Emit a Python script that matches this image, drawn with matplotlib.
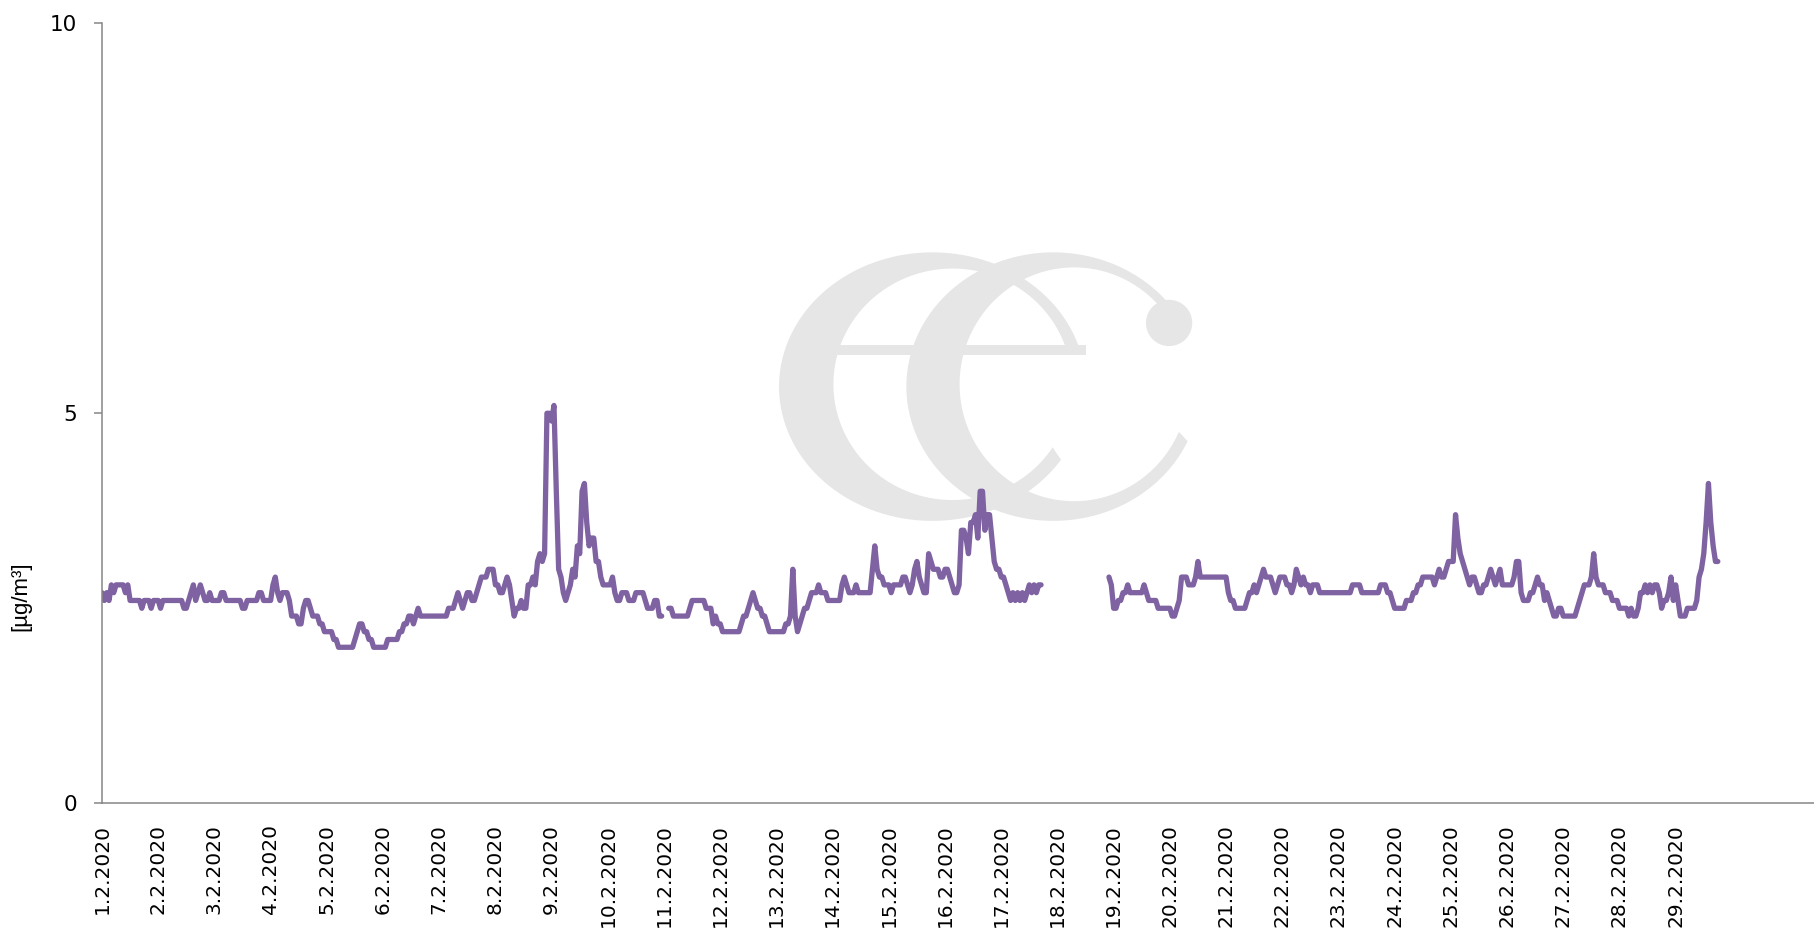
#月間の1時間値をプロット（2020年2月）
#背景にロゴの透かしを入れる

import numpy as np
import matplotlib
matplotlib.use('Agg')
import matplotlib.pyplot as plt
from matplotlib.patches import Polygon, Circle, Rectangle
from matplotlib.transforms import IdentityTransform

nan = np.nan

#1日ごとの時間値 [µg/m³]
d01 = [2.7, 2.6, 2.7, 2.6, 2.8, 2.7, 2.8, 2.8, 2.8, 2.8, 2.7, 2.8, 2.6, 2.6, 2.6, 2.6, 2.6, 2.5, 2.6, 2.6, 2.6, 2.5, 2.6, 2.6]
d02 = [2.6, 2.5, 2.6, 2.6, 2.6, 2.6, 2.6, 2.6, 2.6, 2.6, 2.6, 2.5, 2.5, 2.6, 2.7, 2.8, 2.6, 2.7, 2.8, 2.7, 2.6, 2.6, 2.7, 2.6]
d03 = [2.6, 2.6, 2.6, 2.7, 2.7, 2.6, 2.6, 2.6, 2.6, 2.6, 2.6, 2.6, 2.5, 2.5, 2.6, 2.6, 2.6, 2.6, 2.6, 2.7, 2.7, 2.6, 2.6, 2.6]
d04 = [2.6, 2.8, 2.9, 2.7, 2.6, 2.7, 2.7, 2.7, 2.6, 2.4, 2.4, 2.4, 2.3, 2.3, 2.5, 2.6, 2.6, 2.5, 2.4, 2.4, 2.4, 2.3, 2.3, 2.2]
d05 = [2.2, 2.2, 2.2, 2.1, 2.1, 2.0, 2.0, 2.0, 2.0, 2.0, 2.0, 2.0, 2.1, 2.2, 2.3, 2.3, 2.2, 2.2, 2.1, 2.1, 2.0, 2.0, 2.0, 2.0]
d06 = [2.0, 2.0, 2.1, 2.1, 2.1, 2.1, 2.1, 2.2, 2.2, 2.3, 2.3, 2.4, 2.4, 2.3, 2.4, 2.5, 2.4, 2.4, 2.4, 2.4, 2.4, 2.4, 2.4, 2.4]
d07 = [2.4, 2.4, 2.4, 2.4, 2.5, 2.5, 2.5, 2.6, 2.7, 2.6, 2.5, 2.6, 2.7, 2.7, 2.6, 2.6, 2.7, 2.8, 2.9, 2.9, 2.9, 3.0, 3.0, 3.0]
d08 = [2.8, 2.8, 2.7, 2.7, 2.8, 2.9, 2.8, 2.6, 2.4, 2.5, 2.5, 2.6, 2.5, 2.5, 2.8, 2.8, 2.9, 2.8, 3.1, 3.2, 3.1, 3.2, 5.0, 5.0]
d09 = [4.9, 5.1, 4.0, 3.0, 2.9, 2.7, 2.6, 2.7, 2.8, 3.0, 2.9, 3.3, 3.2, 4.0, 4.1, 3.6, 3.3, 3.4, 3.4, 3.1, 3.1, 2.9, 2.8, 2.8]
d10 = [2.8, 2.8, 2.9, 2.7, 2.6, 2.6, 2.7, 2.7, 2.7, 2.6, 2.6, 2.6, 2.7, 2.7, 2.7, 2.7, 2.6, 2.5, 2.5, 2.5, 2.6, 2.6, 2.4, 2.4]
d11 = [nan, nan, 2.5, 2.5, 2.4, 2.4, 2.4, 2.4, 2.4, 2.4, 2.4, 2.5, 2.6, 2.6, 2.6, 2.6, 2.6, 2.6, 2.5, 2.5, 2.5, 2.3, 2.4, 2.3]
d12 = [2.3, 2.2, 2.2, 2.2, 2.2, 2.2, 2.2, 2.2, 2.2, 2.3, 2.4, 2.4, 2.5, 2.6, 2.7, 2.6, 2.5, 2.5, 2.4, 2.4, 2.3, 2.2, 2.2, 2.2]
d13 = [2.2, 2.2, 2.2, 2.2, 2.3, 2.3, 2.4, 3.0, 2.4, 2.2, 2.3, 2.4, 2.5, 2.5, 2.6, 2.7, 2.7, 2.7, 2.8, 2.7, 2.7, 2.7, 2.6, 2.6]
d14 = [2.6, 2.6, 2.6, 2.6, 2.8, 2.9, 2.8, 2.7, 2.7, 2.7, 2.8, 2.7, 2.7, 2.7, 2.7, 2.7, 2.7, 3.0, 3.3, 3.0, 2.9, 2.9, 2.8, 2.8]
d15 = [2.8, 2.7, 2.8, 2.8, 2.8, 2.8, 2.9, 2.9, 2.8, 2.7, 2.8, 3.0, 3.1, 2.9, 2.8, 2.7, 2.7, 3.2, 3.1, 3.0, 3.0, 3.0, 2.9, 2.9]
d16 = [3.0, 3.0, 2.9, 2.8, 2.7, 2.7, 2.8, 3.5, 3.5, 3.4, 3.2, 3.6, 3.6, 3.7, 3.4, 4.0, 4.0, 3.5, 3.7, 3.7, 3.4, 3.1, 3.0, 3.0]
d17 = [2.9, 2.9, 2.8, 2.7, 2.6, 2.7, 2.6, 2.7, 2.6, 2.7, 2.6, 2.7, 2.8, 2.7, 2.8, 2.7, 2.8, 2.8, nan, nan, nan, nan, nan, nan]
d18 = [nan] * 22 + [2.9, 2.8]
d19 = [2.5, 2.5, 2.6, 2.6, 2.7, 2.7, 2.8, 2.7, 2.7, 2.7, 2.7, 2.7, 2.7, 2.8, 2.7, 2.6, 2.6, 2.6, 2.6, 2.5, 2.5, 2.5, 2.5, 2.5]
d20 = [2.5, 2.4, 2.4, 2.5, 2.6, 2.9, 2.9, 2.9, 2.8, 2.8, 2.8, 2.9, 3.1, 2.9, 2.9, 2.9, 2.9, 2.9, 2.9, 2.9, 2.9, 2.9, 2.9, 2.9]
d21 = [2.9, 2.7, 2.6, 2.6, 2.5, 2.5, 2.5, 2.5, 2.5, 2.6, 2.7, 2.7, 2.8, 2.7, 2.8, 2.9, 3.0, 2.9, 2.9, 2.9, 2.8, 2.7, 2.8, 2.9]
d22 = [2.9, 2.9, 2.8, 2.8, 2.7, 2.8, 3.0, 2.9, 2.8, 2.9, 2.8, 2.8, 2.7, 2.8, 2.8, 2.8, 2.7, 2.7, 2.7, 2.7, 2.7, 2.7, 2.7, 2.7]
d23 = [2.7, 2.7, 2.7, 2.7, 2.7, 2.7, 2.8, 2.8, 2.8, 2.8, 2.7, 2.7, 2.7, 2.7, 2.7, 2.7, 2.7, 2.7, 2.8, 2.8, 2.8, 2.7, 2.7, 2.6]
d24 = [2.5, 2.5, 2.5, 2.5, 2.5, 2.6, 2.6, 2.6, 2.7, 2.7, 2.8, 2.8, 2.9, 2.9, 2.9, 2.9, 2.9, 2.8, 2.9, 3.0, 2.9, 2.9, 3.0, 3.1]
d25 = [3.1, 3.1, 3.7, 3.4, 3.2, 3.1, 3.0, 2.9, 2.8, 2.9, 2.9, 2.8, 2.7, 2.7, 2.8, 2.8, 2.9, 3.0, 2.9, 2.8, 2.9, 3.0, 2.8, 2.8]
d26 = [2.8, 2.8, 2.8, 2.9, 3.1, 3.1, 2.7, 2.6, 2.6, 2.6, 2.7, 2.7, 2.8, 2.9, 2.8, 2.8, 2.6, 2.7, 2.6, 2.5, 2.4, 2.4, 2.5, 2.5]
d27 = [2.4, 2.4, 2.4, 2.4, 2.4, 2.4, 2.5, 2.6, 2.7, 2.8, 2.8, 2.8, 2.9, 3.2, 2.9, 2.8, 2.8, 2.8, 2.7, 2.7, 2.7, 2.6, 2.6, 2.6]
d28 = [2.5, 2.5, 2.5, 2.5, 2.4, 2.5, 2.4, 2.4, 2.5, 2.7, 2.7, 2.8, 2.7, 2.8, 2.7, 2.8, 2.8, 2.7, 2.5, 2.6, 2.6, 2.7, 2.9, 2.6]
d29 = [2.8, 2.6, 2.4, 2.4, 2.4, 2.5, 2.5, 2.5, 2.5, 2.6, 2.9, 3.0, 3.2, 3.6, 4.1, 3.6, 3.3, 3.1, 3.1, nan, nan, nan, nan, nan]

days = [d01, d02, d03, d04, d05, d06, d07, d08, d09, d10, d11, d12, d13, d14, d15,
        d16, d17, d18, d19, d20, d21, d22, d23, d24, d25, d26, d27, d28, d29]
day_labels = ['%d.2.2020' % (i + 1) for i in range(len(days))]

W, H = 1815, 931
K = W / 1568  #ロゴ寸法は縮小画像の座標で測ったので倍率をかける
line_color = '#7F62A1'
axis_color = '#868686'
logo_color = '#E6E6E6'


#画面座標（左上原点, 縮小画像基準）→ 描画ピクセル
def px(x, y):
    return K * np.asarray(x), H - K * np.asarray(y)


def add_shape(fig, patch):
    patch.set_transform(IdentityTransform())
    patch.set_zorder(-1)
    fig.add_artist(patch)


#太さが左右で違う弧（文字の胴体）
def bowl(fig, outer, inner, a0, a1):
    t = np.radians(np.linspace(a0, a1, 120))
    cx, cy, rx, ry = outer
    ox, oy = cx + rx * np.cos(t), cy - ry * np.sin(t)
    cx, cy, rx, ry = inner
    ix, iy = cx + rx * np.cos(t[::-1]), cy - ry * np.sin(t[::-1])
    X, Y = px(np.r_[ox, ix], np.r_[oy, iy])
    add_shape(fig, Polygon(np.c_[X, Y], closed=True, fc=logo_color, ec='none'))


def draw_logo(fig):
    #左の e
    bowl(fig, (805.5, 334, 132.5, 116), (823, 332, 103, 100), 16, 327)
    x0, y0 = px(722, 307)
    x1, y1 = px(938, 298)
    add_shape(fig, Rectangle((x0, y0), x1 - x0, y1 - y0, fc=logo_color, ec='none'))
    #右の c
    bowl(fig, (910, 334, 127, 116), (928, 332, 99, 101), 24, 336)
    bx, by = px(1010, 279)
    add_shape(fig, Circle((bx, by), 20 * K, fc=logo_color, ec='none'))


def main():
    values = np.concatenate([np.array(d, dtype=float) for d in days])
    hours = np.arange(len(values))

    fig = plt.figure(figsize=(W / 100, H / 100), dpi=100)
    fig.patch.set_facecolor('white')

    #軸の位置（ピクセルから換算）
    left, bottom, top = 102 / W, 1 - 803.3 / H, 1 - 23.2 / H
    ax = fig.add_axes([left, bottom, 1 - left, top - bottom])
    ax.set_facecolor('none')

    draw_logo(fig)

    ax.plot(hours, values, color=line_color, lw=3.8,
            solid_joinstyle='round', solid_capstyle='round')

    ax.set_xlim(0, 731.5)
    ax.set_ylim(0, 10)

    #軸の体裁
    for side in ['top', 'right']:
        ax.spines[side].set_visible(False)
    for side in ['left', 'bottom']:
        ax.spines[side].set_color(axis_color)
        ax.spines[side].set_linewidth(1.1)

    ax.set_yticks([0, 5, 10])
    ax.tick_params(axis='y', direction='out', length=5.8, width=1.1,
                   color=axis_color, pad=12, labelsize=15.5)
    ax.set_xticks(np.arange(len(days)) * 24)
    ax.set_xticklabels(day_labels, rotation=90, va='top', ha='center')
    ax.tick_params(axis='x', length=0, pad=15, labelsize=14.5)

    fig.text(21 / W, 1 - 596 / H, '[µg/m³]', rotation=90, ha='center', va='center',
             fontsize=16, family=['Liberation Sans Narrow', 'Liberation Sans'])

    fig.savefig('out.png', dpi=100)


if __name__ == '__main__':
    main()
